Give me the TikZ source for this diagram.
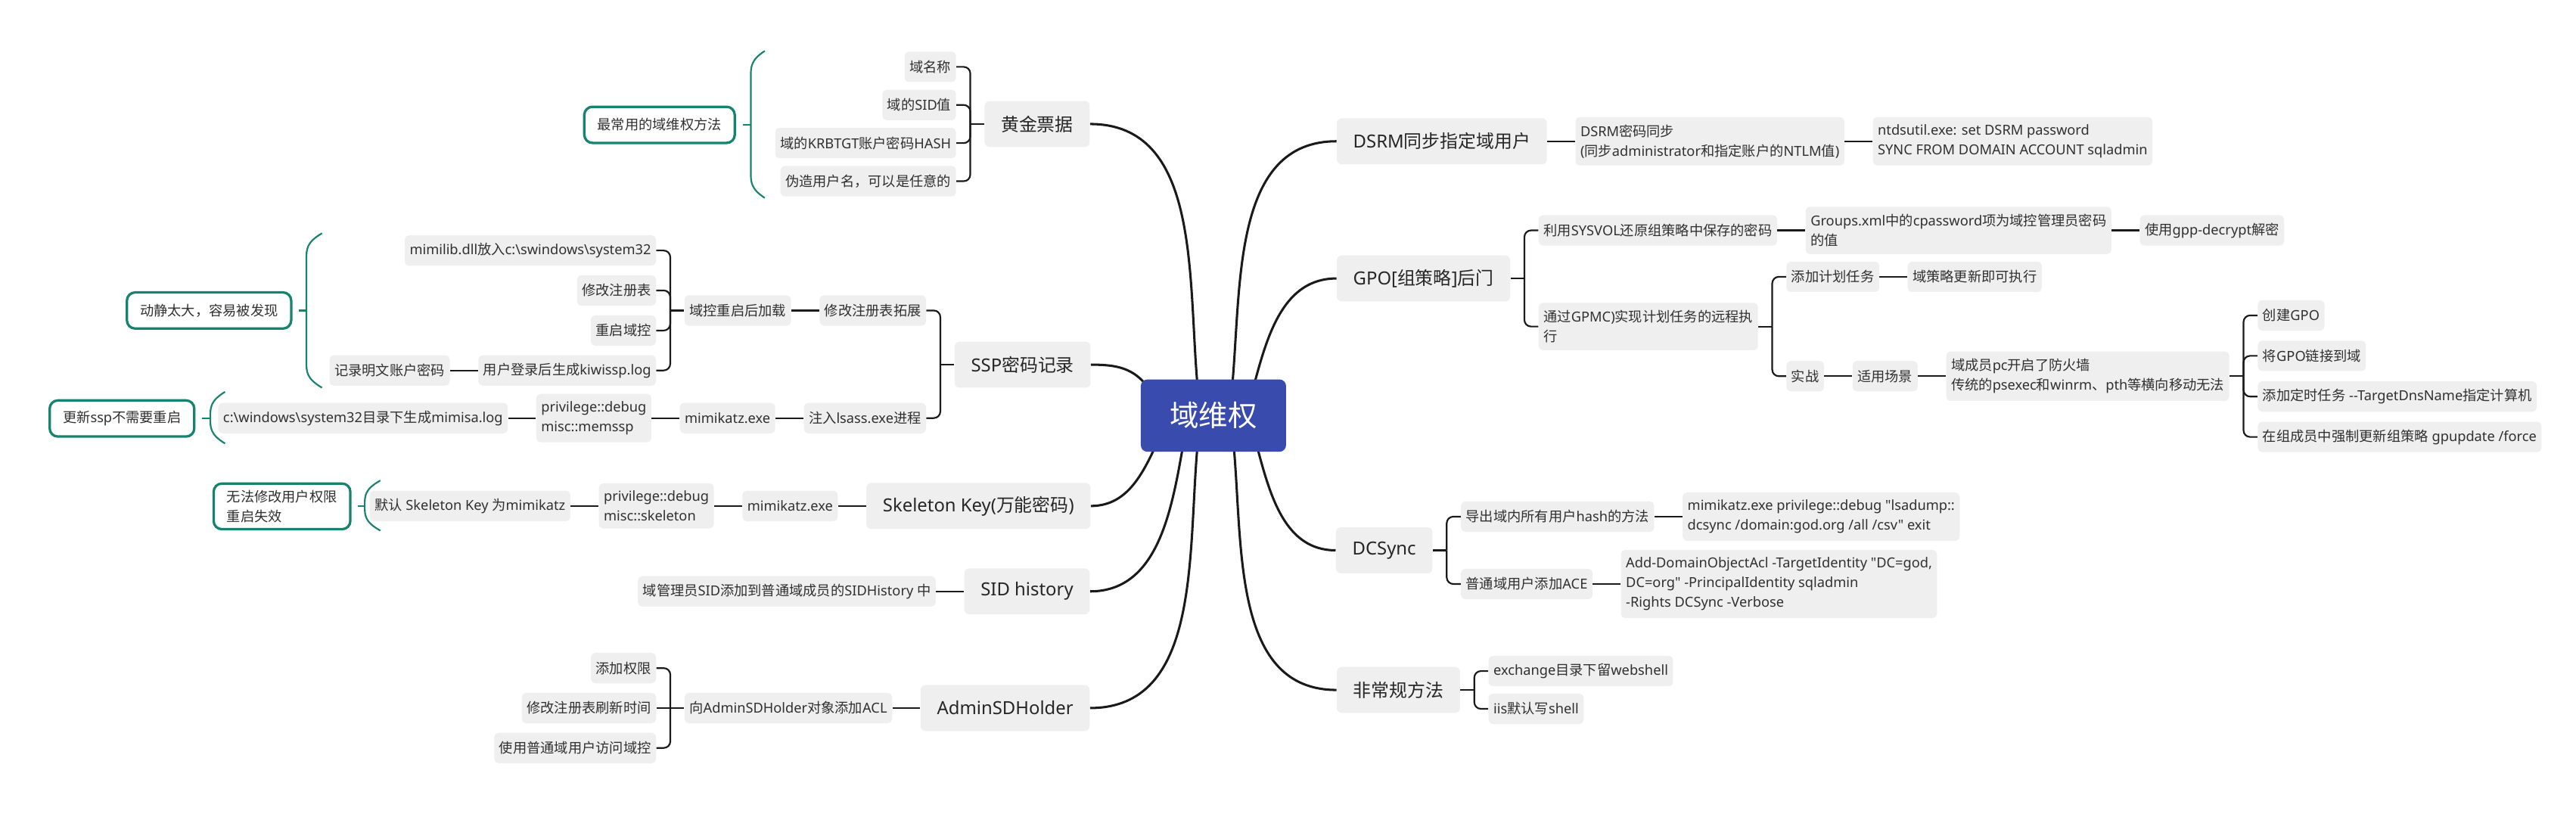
\documentclass[tikz,border=0pt]{standalone}
\usepackage{fontspec}
\usetikzlibrary{calc}
\newfontfamily\latf{Noto Sans}
\newfontfamily\cjkf{Noto Sans CJK SC}
\newXeTeXintercharclass\cjkcls
\newcount\cjkcnt
\def\setclassrange#1#2#3{\cjkcnt=#1\relax
  \loop \XeTeXcharclass\cjkcnt=#3\relax
  \ifnum\cjkcnt<#2\relax \advance\cjkcnt by 1\relax \repeat}
\setclassrange{"0021}{"2FFF}{0}
\setclassrange{"3000}{"303F}{\cjkcls}
\setclassrange{"4E00}{"9FFF}{\cjkcls}
\setclassrange{"FF00}{"FFEF}{\cjkcls}
\XeTeXinterchartoks 0 \cjkcls = {\begingroup\cjkf}
\XeTeXinterchartoks 4095 \cjkcls = {\begingroup\cjkf}
\XeTeXinterchartoks \cjkcls 0 = {\endgroup}
\XeTeXinterchartoks \cjkcls 4095 = {\endgroup}
\XeTeXinterchartokenstate=1
\pgfdeclarelayer{bg}
\pgfsetlayers{bg,main}
\definecolor{boxg}{HTML}{EFEFEF}
\definecolor{txt}{HTML}{303030}
\definecolor{rootc}{HTML}{3A4BAE}
\definecolor{grn}{HTML}{16836E}
\definecolor{lnc}{HTML}{1A1A1A}
\tikzset{
 leaf/.style={fill=boxg, rounded corners=2.5pt, inner xsep=3pt, inner ysep=4.5pt, minimum height=18.5pt, align=left, text=txt, font=\latf\fontsize{8.4}{12}\selectfont},
 lf/.style={leaf, anchor=east},
 rt/.style={leaf, anchor=west},
 mainn/.style={fill=boxg, rounded corners=3pt, inner xsep=10pt, minimum height=28pt, text=black!85, font=\latf\fontsize{11}{14}\selectfont},
 note/.style={draw=grn, line width=1.5pt, fill=white, rounded corners=5pt, inner xsep=8pt, inner ysep=4pt, minimum height=22pt, align=left, text=txt, font=\latf\fontsize{8.4}{12}\selectfont, anchor=east},
 rootn/.style={fill=rootc, rounded corners=4pt, minimum width=88.4pt, minimum height=44pt, text=white, font=\latf\fontsize{17.7}{20}\selectfont},
 ln/.style={draw=lnc, line width=1pt},
 br/.style={ln, rounded corners=4pt},
 mc/.style={draw=lnc, line width=1.4pt},
 gl/.style={draw=grn, line width=1pt},
}
\newcommand\gbrace[5]{%
 \draw[gl] (#1,-#3) .. controls (#2,{-#3-0.35*#5}) and (#2,{-#3-0.6*#5}) .. (#2,{-#3-#5}) -- (#2,{-#4+#5}) .. controls (#2,{-#4+0.6*#5}) and (#2,{-#4+0.35*#5}) .. (#1,-#4);}
\begin{document}
\begin{tikzpicture}[x=1pt,y=1pt]
\useasboundingbox (0,0) rectangle (1568,-497.3);
% root
\node[rootn] (root) at (738.6,-253) {域维权};
% ---------- LEFT ----------
\node[mainn,anchor=east] (gold) at (663.5,-75.5) {黄金票据};
\node[lf] (g1) at ($(gold.west)+(-17,34.8)$) {域名称};
\node[lf] (g2) at ($(gold.west)+(-17,11.6)$) {域的SID值};
\node[lf] (g3) at ($(gold.west)+(-17,-11.6)$) {域的KRBTGT账户密码HASH};
\node[lf] (g4) at ($(gold.west)+(-17,-34.8)$) {伪造用户名，可以是任意的};

\node[mainn,anchor=east] (ssp) at (664,-222) {SSP密码记录};
\node[lf] (s1) at ($(ssp.west)+(-17,33)$) {修改注册表拓展};
\node[lf] (s2) at ($(ssp.west)+(-17,-32.5)$) {注入lsass.exe进程};
\node[lf] (a1) at ($(s1.west)+(-17,0)$) {域控重启后加载};
\node[lf] (m1) at ($(a1.west)+(-17,36.5)$) {mimilib.dll放入c:\textbackslash swindows\textbackslash system32};
\node[lf] (m2) at ($(a1.west)+(-17,12.2)$) {修改注册表};
\node[lf] (m3) at ($(a1.west)+(-17,-12.2)$) {重启域控};
\node[lf] (m4) at ($(a1.west)+(-17,-36.5)$) {用户登录后生成kiwissp.log};
\node[lf] (m5) at ($(m4.west)+(-17,0)$) {记录明文账户密码};
\node[lf] (k1) at ($(s2.west)+(-17,0)$) {mimikatz.exe};
\node[lf] (k2) at ($(k1.west)+(-17,0)$) {privilege::debug\\misc::memssp};
\node[lf] (k3) at ($(k2.west)+(-17,0)$) {c:\textbackslash windows\textbackslash system32目录下生成mimisa.log};

\node[mainn,anchor=east] (skel) at (664,-308) {Skeleton Key(万能密码)};
\node[lf] (sk1) at ($(skel.west)+(-17,0)$) {mimikatz.exe};
\node[lf] (sk2) at ($(sk1.west)+(-17,0)$) {privilege::debug\\misc::skeleton};
\node[lf] (sk3) at ($(sk2.west)+(-17,0)$) {默认 Skeleton Key 为mimikatz};

\node[mainn,anchor=east] (sid) at (663.5,-360) {SID history};
\node[lf] (sd1) at ($(sid.west)+(-17,0)$) {域管理员SID添加到普通域成员的SIDHistory 中};

\node[mainn,anchor=east] (adm) at (663.5,-431) {AdminSDHolder};
\node[lf] (ad1) at ($(adm.west)+(-17,0)$) {向AdminSDHolder对象添加ACL};
\node[lf] (ad2) at ($(ad1.west)+(-17,24.3)$) {添加权限};
\node[lf] (ad3) at ($(ad1.west)+(-17,0)$) {修改注册表刷新时间};
\node[lf] (ad4) at ($(ad1.west)+(-17,-24.3)$) {使用普通域用户访问域控};

% ---------- RIGHT ----------
\node[mainn,anchor=west,minimum width=126pt] (dsrm) at (813.5,-86) {DSRM同步指定域用户};
\node[rt] (ds1) at ($(dsrm.east)+(17,0)$) {DSRM密码同步\\(同步administrator和指定账户的NTLM值)};
\node[rt] (ds2) at ($(ds1.east)+(17,0)$) {ntdsutil.exe: set DSRM password\\SYNC FROM DOMAIN ACCOUNT sqladmin};

\node[mainn,anchor=west] (gpo) at (813.5,-169.5) {GPO[组策略]后门};
\node[rt] (gp1) at ($(gpo.east)+(17,29.25)$) {利用SYSVOL还原组策略中保存的密码};
\node[rt] (gp2) at ($(gpo.east)+(17,-29.25)$) {通过GPMC)实现计划任务的远程执\\行};
\node[rt] (gp3) at ($(gp1.east)+(17,0)$) {Groups.xml中的cpassword项为域控管理员密码\\的值};
\node[rt] (gp4) at ($(gp3.east)+(17,0)$) {使用gpp-decrypt解密};
\node[rt] (gp5) at ($(gp2.east)+(17,30.25)$) {添加计划任务};
\node[rt] (gp6) at ($(gp2.east)+(17,-30.25)$) {实战};
\node[rt] (gp7) at ($(gp5.east)+(17,0)$) {域策略更新即可执行};
\node[rt] (gp8) at ($(gp6.east)+(17,0)$) {适用场景};
\node[rt] (gp9) at ($(gp8.east)+(17,0)$) {域成员pc开启了防火墙\\传统的psexec和winrm、pth等横向移动无法};
\node[rt] (gp10) at ($(gp9.east)+(17,37)$) {创建GPO};
\node[rt] (gp11) at ($(gp9.east)+(17,12.4)$) {将GPO链接到域};
\node[rt] (gp12) at ($(gp9.east)+(17,-12.4)$) {添加定时任务 -{}-TargetDnsName指定计算机};
\node[rt] (gp13) at ($(gp9.east)+(17,-37)$) {在组成员中强制更新组策略 gpupdate /force};

\node[mainn,anchor=west] (dcs) at (813,-335) {DCSync};
\node[rt] (dc1) at ($(dcs.east)+(17,20.5)$) {导出域内所有用户hash的方法};
\node[rt] (dc2) at ($(dcs.east)+(17,-20.5)$) {普通域用户添加ACE};
\node[rt] (dc3) at ($(dc1.east)+(17,0)$) {mimikatz.exe privilege::debug "lsadump::\\dcsync /domain:god.org /all /csv" exit};
\node[rt] (dc4) at ($(dc2.east)+(17,0)$) {Add-DomainObjectAcl -TargetIdentity "DC=god,\\DC=org" -PrincipalIdentity sqladmin\\-Rights DCSync -Verbose};

\node[mainn,anchor=west] (unc) at (813.5,-420) {非常规方法};
\node[rt] (un1) at ($(unc.east)+(17,11.5)$) {exchange目录下留webshell};
\node[rt] (un2) at ($(unc.east)+(17,-11.5)$) {iis默认写shell};

% ---------- notes ----------
\node[note] (n1) at (448,-76) {最常用的域维权方法};
\node[note] (n2) at (178,-189) {动静太大，容易被发现};
\node[note] (n3) at (119,-254.75) {更新ssp不需要重启};
\node[note] (n4) at (214,-308.25) {无法修改用户权限\\重启失效};

\begin{pgfonlayer}{bg}
\fill[white] (0,0) rectangle (1568,-497.3);
% main curves
\draw[mc] ($(root.north west)!0.39!(root.north east)+(0,-3)$) to[out=95,in=0] (gold.east);
\draw[mc] ($(root.north west)+(3,-3)$) to[out=130,in=0] (ssp.east);
\draw[mc] ($(root.south west)!0.10!(root.south east)+(0,3)$) to[out=-115,in=0] (skel.east);
\draw[mc] ($(root.south west)!0.29!(root.south east)+(0,3)$) to[out=-100,in=0] (sid.east);
\draw[mc] ($(root.south west)!0.39!(root.south east)+(0,3)$) to[out=-95,in=0] (adm.east);
\draw[mc] ($(root.north west)!0.63!(root.north east)+(0,-3)$) to[out=85,in=180] (dsrm.west);
\draw[mc] ($(root.north west)!0.78!(root.north east)+(0,-3)$) to[out=75,in=180] (gpo.west);
\draw[mc] ($(root.south west)!0.80!(root.south east)+(0,3)$) to[out=-75,in=180] (dcs.west);
\draw[mc] ($(root.south west)!0.64!(root.south east)+(0,3)$) to[out=-85,in=180] (unc.west);
% left brackets
\foreach \q in {g1,g2,g3,g4} \draw[br] (\q.east) -| ($(gold.west)+(-8.5,0)$);
\draw[ln] ($(gold.west)+(-8.5,0)$) -- (gold.west);
\foreach \q in {s1,s2} \draw[br] (\q.east) -| ($(ssp.west)+(-8.5,0)$);
\draw[ln] ($(ssp.west)+(-8.5,0)$) -- (ssp.west);
\draw[ln] (a1.east) -- (s1.west);
\foreach \q in {m1,m2,m3,m4} \draw[br] (\q.east) -| ($(a1.west)+(-8.5,0)$);
\draw[ln] ($(a1.west)+(-8.5,0)$) -- (a1.west);
\draw[ln] (m5.east) -- (m4.west);
\draw[ln] (k1.east) -- (s2.west);
\draw[ln] (k2.east) -- (k1.west);
\draw[ln] (k3.east) -- (k2.west);
\draw[ln] (sk1.east) -- (skel.west);
\draw[ln] (sk2.east) -- (sk1.west);
\draw[ln] (sk3.east) -- (sk2.west);
\draw[ln] (sd1.east) -- (sid.west);
\draw[ln] (ad1.east) -- (adm.west);
\foreach \q in {ad2,ad4} \draw[br] (\q.east) -| ($(ad1.west)+(-8.5,0)$);
\draw[ln] (ad3.east) -- (ad1.west);
% right brackets
\draw[ln] (dsrm.east) -- (ds1.west);
\draw[ln] (ds1.east) -- (ds2.west);
\foreach \q in {gp1,gp2} \draw[br] (\q.west) -| ($(gpo.east)+(8.5,0)$);
\draw[ln] ($(gpo.east)+(8.5,0)$) -- (gpo.east);
\draw[ln] (gp1.east) -- (gp3.west);
\draw[ln] (gp3.east) -- (gp4.west);
\foreach \q in {gp5,gp6} \draw[br] (\q.west) -| ($(gp2.east)+(8.5,0)$);
\draw[ln] ($(gp2.east)+(8.5,0)$) -- (gp2.east);
\draw[ln] (gp5.east) -- (gp7.west);
\draw[ln] (gp6.east) -- (gp8.west);
\draw[ln] (gp8.east) -- (gp9.west);
\foreach \q in {gp10,gp11,gp12,gp13} \draw[br] (\q.west) -| ($(gp9.east)+(8.5,0)$);
\draw[ln] ($(gp9.east)+(8.5,0)$) -- (gp9.east);
\foreach \q in {dc1,dc2} \draw[br] (\q.west) -| ($(dcs.east)+(8.5,0)$);
\draw[ln] ($(dcs.east)+(8.5,0)$) -- (dcs.east);
\draw[ln] (dc1.east) -- (dc3.west);
\draw[ln] (dc2.east) -- (dc4.west);
\foreach \q in {un1,un2} \draw[br] (\q.west) -| ($(unc.east)+(8.5,0)$);
\draw[ln] ($(unc.east)+(8.5,0)$) -- (unc.east);
% green summary braces
\gbrace{465.5}{457}{31}{120.5}{16}
\draw[gl] ($(n1.east)+(4,0)$) -- ++(5,0);
\gbrace{196}{186.5}{142}{236}{16}
\draw[gl] ($(n2.east)+(4,0)$) -- ++(4.5,0);
\gbrace{137}{128}{238.5}{270}{15.75}
\draw[gl] ($(n3.east)+(4,0)$) -- ++(5,0);
\gbrace{231.5}{222}{292.5}{323}{15.25}
\draw[gl] ($(n4.east)+(4,0)$) -- ++(4,0);
\end{pgfonlayer}
\end{tikzpicture}
\end{document}
